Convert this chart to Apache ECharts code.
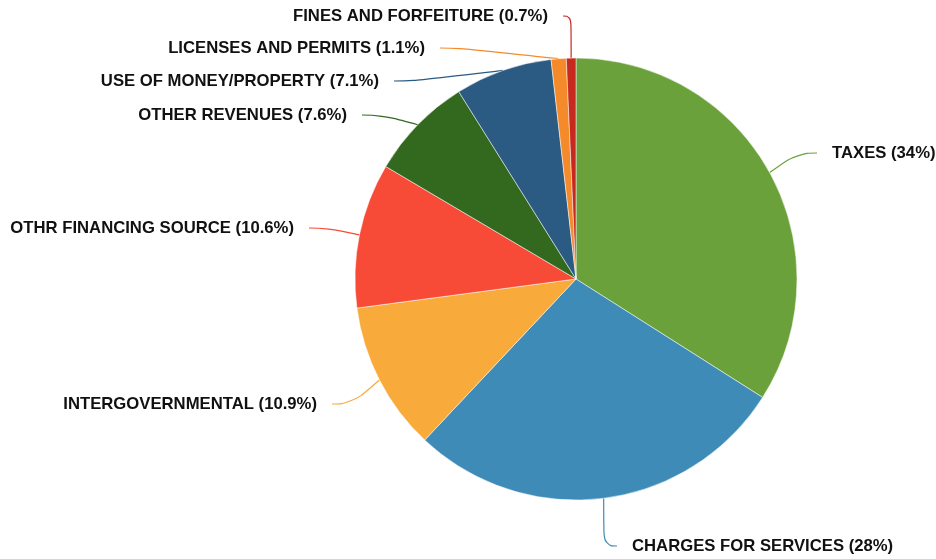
<!DOCTYPE html>
<html>
<head>
<meta charset="utf-8">
<script src="https://cdn.jsdelivr.net/npm/echarts@6/dist/echarts.min.js"></script>
<style>
html,body{margin:0;padding:0;background:#fff;}
#chart{width:936px;height:559px;}
</style>
</head>
<body>
<div id="chart"></div>
<script>
const categories = ['TAXES','CHARGES FOR SERVICES','INTERGOVERNMENTAL','OTHR FINANCING SOURCE','OTHER REVENUES','USE OF MONEY/PROPERTY','LICENSES AND PERMITS','FINES AND FORFEITURE'];
const values = [34, 28, 10.9, 10.6, 7.6, 7.1, 1.1, 0.7];
const colors = ['#6aa13b','#3d8bb6','#f8aa3a','#f84b37','#33691f','#2b5a83','#f58a2b','#c7291f'];
// label line end positions and alignment
const labelPos = [
  [817, 153, 'left'],
  [617, 546, 'left'],
  [332, 404, 'right'],
  [309, 228, 'right'],
  [362, 115, 'right'],
  [394, 81, 'right'],
  [440, 48, 'right'],
  [563, 16, 'right']
];

const textStyle = {
  fontFamily: 'Liberation Sans, Arial, sans-serif',
  fontWeight: 'bold',
  fontSize: 16.7,
  color: '#111'
};

const chart = echarts.init(document.getElementById('chart'));
chart.setOption({
  animation: false,
  series: [{
    type: 'pie',
    center: [576, 279],
    radius: [0, 221],
    startAngle: 90,
    clockwise: true,
    data: categories.map((c, i) => ({
      name: c, value: values[i], itemStyle: {color: colors[i]},
      label: {
        formatter: labelPos[i][2] === 'left'
          ? '{g| }{t|' + c + ' (' + values[i] + '%)}'
          : '{t|' + c + ' (' + values[i] + '%)}{g| }'
      }
    })),
    itemStyle: {borderColor: '#fff', borderWidth: 0.5},
    label: Object.assign({
      overflow: 'none',
      rich: {
        t: textStyle,
        g: {width: 15, fontSize: 16.7}
      }
    }, textStyle),
    labelLine: {show: true, smooth: 0.5, length: 15, length2: 20, lineStyle: {width: 1.2}},
    labelLayout: function (params) {
      const p = labelPos[params.dataIndex];
      return {
        x: p[0],
        y: p[1],
        align: p[2],
        verticalAlign: 'middle'
      };
    }
  }]
});
</script>
</body>
</html>
